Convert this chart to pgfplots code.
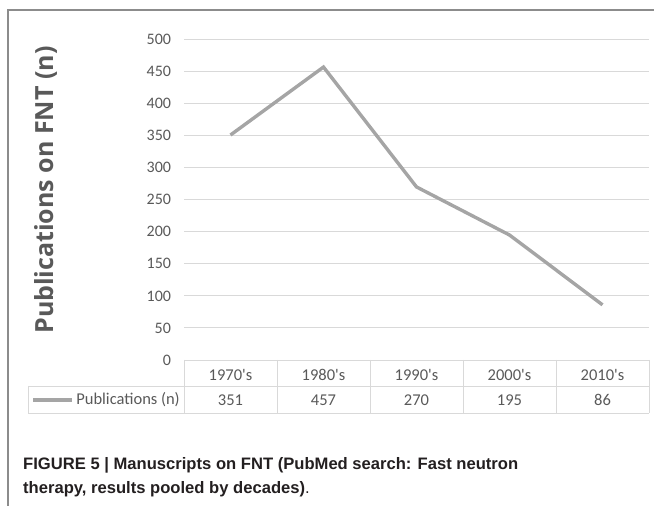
\documentclass[border=0pt]{standalone}
\usepackage{fontspec}
\usepackage{pgfplots}
\pgfplotsset{compat=1.18}
\setmainfont{Carlito}
\newfontfamily\capfont{Liberation Sans}
\newfontfamily\labfont{Open Sans}
\definecolor{txt}{HTML}{595959}
\definecolor{gridc}{HTML}{D9D9D9}
\definecolor{ser}{HTML}{A5A5A5}
\definecolor{framec}{HTML}{8C8C8C}
\definecolor{capc}{HTML}{231F20}
\begin{document}
\begin{tikzpicture}[x=1pt,y=1pt]
\path[use as bounding box] (0,0) rectangle (654,506);
\draw[framec, line width=1.2pt] (8,0) -- (8,496) -- (654,496);
\begin{axis}[
 at={(184pt,146pt)}, anchor=south west, scale only axis,
 width=465pt, height=320.5pt,
 xmin=-0.5, xmax=4.5, ymin=0, ymax=500,
 ytick={0,50,...,500},
 xtick=\empty,
 axis line style={draw=none},
 major tick length=0pt,
 ymajorgrids, grid style={gridc, line width=0.9pt},
 yticklabel style={font=\fontsize{16}{18}\selectfont, text=txt, xshift=-9.5pt},
 /pgf/number format/assume math mode=true,
 clip=false,
]
\addplot[ser, line width=3.4pt] coordinates {(0,351) (1,457) (2,270) (3,195) (4,86)};
\end{axis}
% data table
\begin{scope}[gridc, line width=0.9pt]
\draw (184,146) -- (649,146);
\draw (28,120) -- (649,120);
\draw (28,93) -- (649,93);
\draw (28,120) -- (28,93);
\foreach \xx in {184,277,370,463,556,649} {\draw (\xx,146) -- (\xx,93);}
\end{scope}
\begin{scope}[font=\fontsize{16.5}{18}\selectfont, text=txt]
\node at (230.5,131.5) {1970\textquotesingle s};
\node at (323.5,131.5) {1980\textquotesingle s};
\node at (416.5,131.5) {1990\textquotesingle s};
\node at (509.5,131.5) {2000\textquotesingle s};
\node at (602.5,131.5) {2010\textquotesingle s};
\node at (230.5,106) {351};
\node at (323.5,106) {457};
\node at (416.5,106) {270};
\node at (509.5,106) {195};
\node at (602.5,106) {86};
\node[anchor=east, inner sep=0pt] at (180,106) {Publications (n)};
\end{scope}
\draw[ser, line width=3.4pt] (33,106) -- (72,106);
\node[rotate=90, anchor=base, inner sep=0pt, text=txt, font=\labfont\bfseries\fontsize{25}{28}\selectfont] at (53,316) {Publications on FNT (n)};
\node[anchor=base west, inner sep=0pt, text=capc, font=\capfont\bfseries\fontsize{16.6}{19}\selectfont] at (23,36) {FIGURE 5 | Manuscripts on FNT (PubMed search: Fast neutron};
\node[anchor=base west, inner sep=0pt, text=capc, font=\capfont\fontsize{16.6}{19}\selectfont] at (23,12) {\textbf{therapy, results pooled by decades)}.};
\end{tikzpicture}
\end{document}
